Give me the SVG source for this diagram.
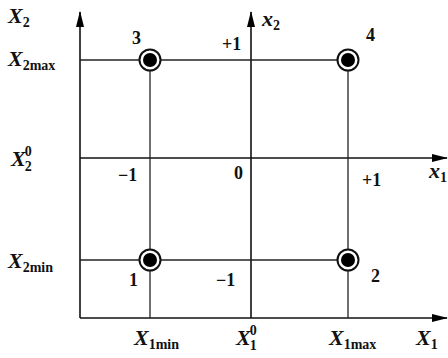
<svg xmlns="http://www.w3.org/2000/svg" width="448" height="358" viewBox="0 0 448 358">
<defs>
<style>
.ln{stroke:#222;stroke-width:1.3;fill:none}
.ax{stroke:#111;stroke-width:1.6;fill:none}
.t{font-family:"Liberation Serif","DejaVu Serif",serif;font-weight:bold;fill:#111}
.it{font-style:italic;font-size:22px}
.n{font-size:18px}
.sub{font-size:14px;font-style:normal}
.ring{fill:#fff;stroke:#111;stroke-width:2}
.dot{fill:#000}
</style>
<marker id="ah" viewBox="0 0 16 8" refX="15" refY="4" markerWidth="16" markerHeight="8" markerUnits="userSpaceOnUse" orient="auto">
<path d="M0,0 L16,4 L0,8 Z" fill="#000"/>
</marker>
</defs>
<g id="connectors">
<line class="ax" x1="80" y1="318" x2="80" y2="12" marker-end="url(#ah)"/>
<line class="ax" x1="80" y1="318" x2="447" y2="318" marker-end="url(#ah)"/>
<line class="ax" x1="251" y1="318" x2="251" y2="12" marker-end="url(#ah)"/>
<line class="ax" x1="80" y1="158" x2="447" y2="158" marker-end="url(#ah)"/>
<line class="ln" x1="80" y1="60" x2="348" y2="60"/>
<line class="ln" x1="80" y1="260" x2="348" y2="260"/>
<line class="ln" x1="150" y1="60" x2="150" y2="318"/>
<line class="ln" x1="348" y1="60" x2="348" y2="318"/>
</g>
<g id="p3"><circle class="ring" cx="150" cy="60" r="10.5"/><circle class="dot" cx="150" cy="60" r="7"/></g>
<g id="p4"><circle class="ring" cx="348" cy="60" r="10.5"/><circle class="dot" cx="348" cy="60" r="7"/></g>
<g id="p1"><circle class="ring" cx="150" cy="260" r="10.5"/><circle class="dot" cx="150" cy="260" r="7"/></g>
<g id="p2"><circle class="ring" cx="348" cy="260" r="10.5"/><circle class="dot" cx="348" cy="260" r="7"/></g>
<g id="labels">
<text class="t it" x="8" y="23">X<tspan class="sub" dy="4">2</tspan></text>
<text class="t it" x="8" y="66">X<tspan class="sub" dy="4">2max</tspan></text>
<text class="t it" x="11" y="166">X<tspan class="sub" dx="-1" dy="-10">0</tspan><tspan class="sub" dx="-7" dy="15">2</tspan></text>
<text class="t it" x="8" y="268">X<tspan class="sub" dy="4">2min</tspan></text>
<text class="t it" x="134" y="345">X<tspan class="sub" dy="4">1min</tspan></text>
<text class="t it" x="236" y="345">X<tspan class="sub" dx="-1" dy="-10">0</tspan><tspan class="sub" dx="-7" dy="15">1</tspan></text>
<text class="t it" x="329" y="345">X<tspan class="sub" dy="4">1max</tspan></text>
<text class="t it" x="416" y="345">X<tspan class="sub" dy="4">1</tspan></text>
<text class="t it" x="262" y="26">x<tspan class="sub" dy="4">2</tspan></text>
<text class="t it" x="429" y="178">x<tspan class="sub" dy="4">1</tspan></text>
<text class="t n" x="132" y="44">3</text>
<text class="t n" x="366" y="41">4</text>
<text class="t n" x="129" y="286">1</text>
<text class="t n" x="371" y="282">2</text>
<text class="t n" x="222" y="50">+1</text>
<text class="t n" x="118" y="181">−1</text>
<text class="t n" x="234" y="179">0</text>
<text class="t n" x="362" y="186">+1</text>
<text class="t n" x="216" y="286">−1</text>
</g>
</svg>
